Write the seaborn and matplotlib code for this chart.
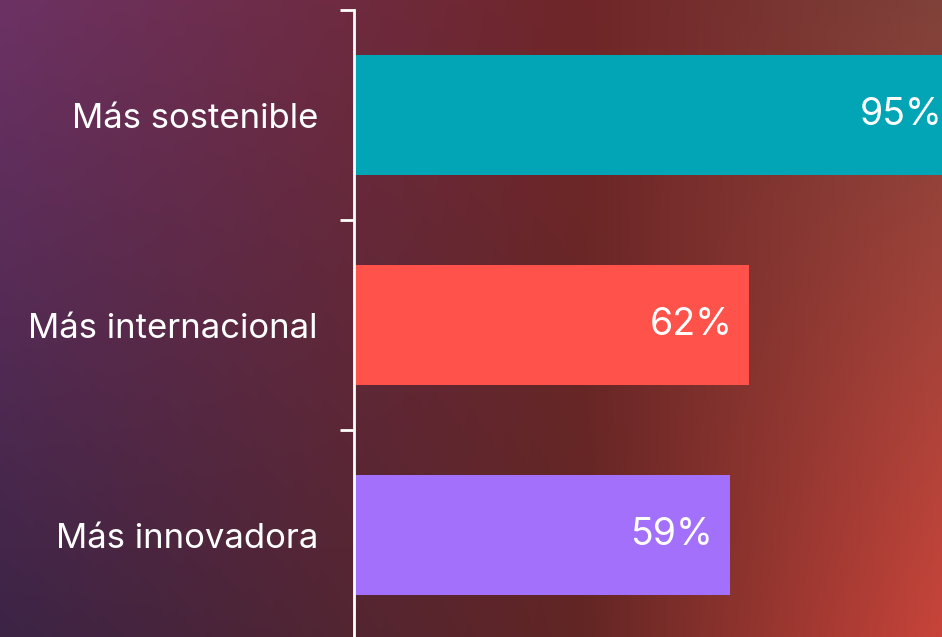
import numpy as np
import pandas as pd
import matplotlib
matplotlib.use("Agg")
import matplotlib.pyplot as plt
import seaborn as sns

categories = ["Más sostenible", "Más internacional", "Más innovadora"]
values = [95, 62, 59]
value_labels = ["95%", "62%", "59%"]
bar_colors = ["#02a5b5", "#ff524a", "#a370fc"]

sns.set_theme(style="white")
plt.rcParams["font.family"] = ["Inter", "DejaVu Sans"]

W, H = 942, 637
fig = plt.figure(figsize=(W / 100, H / 100), dpi=100)

# background gradient: columns at x=0, 0.6, 1 for top and bottom rows
xs = np.array([0.0, 0.62, 1.0])
top = np.array([[108, 50, 100], [112, 38, 40], [128, 66, 58]]) / 255
bot = np.array([[60, 36, 70], [98, 38, 36], [200, 68, 58]]) / 255
gx = np.linspace(0, 1, W)
gy = np.linspace(0, 1, H)[:, None, None]
top_row = np.stack([np.interp(gx, xs, top[:, c]) for c in range(3)], axis=-1)
bot_row = np.stack([np.interp(gx, xs, bot[:, c]) for c in range(3)], axis=-1)
bg = top_row[None] * (1 - gy) + bot_row[None] * gy
bg_ax = fig.add_axes([0, 0, 1, 1], zorder=0)
bg_ax.imshow(bg, aspect="auto", extent=[0, 1, 0, 1])
bg_ax.axis("off")

ax = fig.add_axes([354 / W, -3 / H, (W - 354) / W, 630 / H], zorder=1)
ax.patch.set_alpha(0)
df = pd.DataFrame({"cat": categories, "val": values})
sns.barplot(data=df, y="cat", x="val", hue="cat", palette=bar_colors,
            width=0.571, legend=False, ax=ax, saturation=1, linewidth=0)

ax.set_xlim(0, 92.3)
ax.set_ylim(2.5, -0.5)
ax.set_xlabel("")
ax.set_ylabel("")
ax.set_xticks([])

# ticks on band edges, labels on band centres
ax.set_yticks([-0.5, 0.5, 1.5, 2.5])
ax.set_yticklabels([])
ax.set_yticks([0, 1, 2], minor=True)
ax.set_yticklabels(categories, minor=True, fontsize=25, color="white")
ax.tick_params(axis="y", which="major", length=10, width=2, color="white", left=True)
ax.tick_params(axis="y", which="minor", length=0, pad=26)

for s in ["top", "right", "bottom"]:
    ax.spines[s].set_visible(False)
ax.spines["left"].set_color("white")
ax.spines["left"].set_linewidth(2)

for i, (v, lab) in enumerate(zip(values, value_labels)):
    ax.text(v - 2.6, i, lab, ha="right", va="center", color="white",
            fontsize=27, clip_on=False)

fig.savefig("out.png", dpi=100)
